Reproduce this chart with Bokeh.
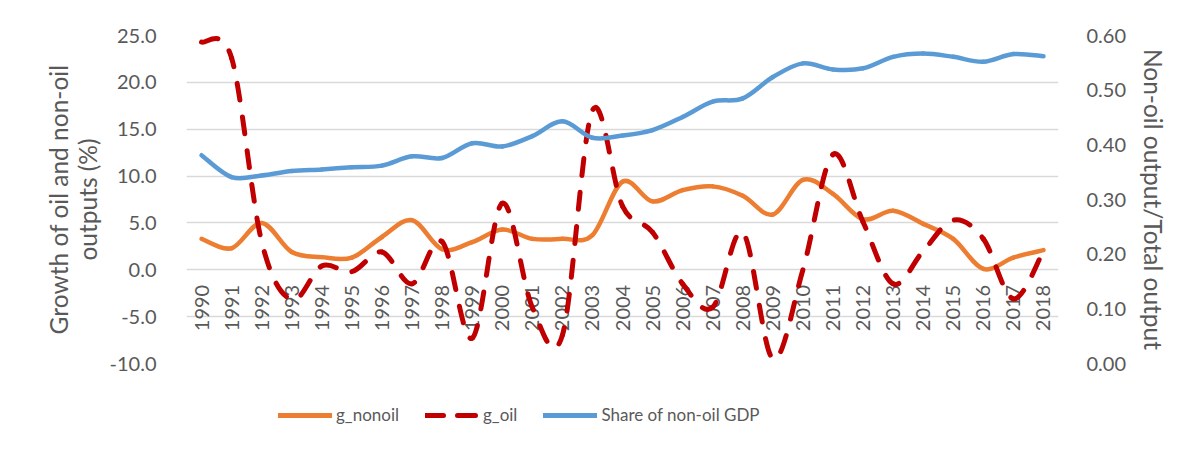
import math
from bokeh.plotting import figure
from bokeh.layouts import column
from bokeh.models import (Range1d, LinearAxis, FixedTicker, NumeralTickFormatter,
                          Legend, LegendItem, ColumnDataSource)
from bokeh.core.properties import value
from bokeh.embed import file_html
from bokeh.resources import INLINE

# ---------------- data ----------------
years = ["1990", "1991", "1992", "1993", "1994", "1995", "1996", "1997", "1998", "1999",
         "2000", "2001", "2002", "2003", "2004", "2005", "2006", "2007", "2008", "2009",
         "2010", "2011", "2012", "2013", "2014", "2015", "2016", "2017", "2018"]

g_nonoil = [3.3, 2.3, 5.0, 1.9, 1.35, 1.3, 3.5, 5.3, 2.2, 2.95,
            4.3, 3.3, 3.3, 3.7, 9.4, 7.3, 8.5, 8.9, 7.9, 5.9,
            9.6, 8.1, 5.4, 6.3, 4.9, 3.3, 0.1, 1.3, 2.1]

g_oil = [24.3, 22.6, 3.0, -3.2, 0.4, -0.2, 1.9, -1.5, 3.0, -7.3,
         7.1, -4.0, -7.0, 17.0, 6.8, 4.0, -1.5, -4.0, 4.0, -9.5,
         0.0, 12.3, 5.1, -1.5, 2.0, 5.3, 3.3, -3.1, 2.0]

share_nonoil = [0.381, 0.341, 0.344, 0.352, 0.355, 0.359, 0.362, 0.379, 0.376, 0.403,
                0.397, 0.416, 0.443, 0.413, 0.417, 0.427, 0.451, 0.479, 0.485, 0.524,
                0.549, 0.538, 0.540, 0.561, 0.567, 0.561, 0.552, 0.566, 0.562]

series_names = ["g_nonoil", "g_oil", "Share of non-oil GDP"]

left_ticks = [-10, -5, 0, 5, 10, 15, 20, 25]
right_ticks = [0.0, 0.1, 0.2, 0.3, 0.4, 0.5, 0.6]

# ---------------- styles ----------------
FONT = "Lato"
GREY = "#595959"
C_NONOIL = "#ED7D31"
C_OIL = "#C00000"
C_SHARE = "#5B9BD5"
OIL_DASH = "17 17"
OIL_DASH_LEGEND = "18 14"

FRAME_W, FRAME_H = 872, 328
BORDER_L, BORDER_R, BORDER_T, BORDER_B = 186, 123, 35, 37
FIG_W = BORDER_L + FRAME_W + BORDER_R
LEGEND_H = 42

xs = list(range(len(years)))
X_LO, X_HI = -0.5, len(years) - 0.5
Y_LO, Y_HI = left_ticks[0], left_ticks[-1]
R_LO, R_HI = right_ticks[0], right_ticks[-1]


def smooth_segments(vals, px_x, px_y):
    """Excel-like smoothed line as cubic Bezier segments (Catmull-Rom control points)."""
    n = len(vals)
    cols = dict(x0=[], y0=[], x1=[], y1=[], cx0=[], cy0=[], cx1=[], cy1=[], off=[])
    cum = 0.0
    for i in range(n - 1):
        p0 = (xs[i], vals[i])
        p1 = (xs[i + 1], vals[i + 1])
        pm = (xs[i - 1], vals[i - 1]) if i > 0 else p0
        pp = (xs[i + 2], vals[i + 2]) if i + 2 < n else p1
        c0 = (p0[0] + (p1[0] - pm[0]) / 6.0, p0[1] + (p1[1] - pm[1]) / 6.0)
        c1 = (p1[0] - (pp[0] - p0[0]) / 6.0, p1[1] - (pp[1] - p0[1]) / 6.0)
        cols["x0"].append(p0[0]); cols["y0"].append(p0[1])
        cols["x1"].append(p1[0]); cols["y1"].append(p1[1])
        cols["cx0"].append(c0[0]); cols["cy0"].append(c0[1])
        cols["cx1"].append(c1[0]); cols["cy1"].append(c1[1])
        cols["off"].append(int(round(cum)))
        # screen-space length, to keep the dash pattern continuous across segments
        length = 0.0
        prev = None
        for k in range(61):
            t = k / 60.0
            a, b, c, d = (1 - t) ** 3, 3 * t * (1 - t) ** 2, 3 * t * t * (1 - t), t ** 3
            bx = a * p0[0] + b * c0[0] + c * c1[0] + d * p1[0]
            by = a * p0[1] + b * c0[1] + c * c1[1] + d * p1[1]
            cur = (bx * px_x, by * px_y)
            if prev is not None:
                length += math.hypot(cur[0] - prev[0], cur[1] - prev[1])
            prev = cur
        cum += length
    return ColumnDataSource(cols)


px_x = FRAME_W / (X_HI - X_LO)
px_y_left = FRAME_H / (Y_HI - Y_LO)
px_y_right = FRAME_H / (R_HI - R_LO)

p = figure(frame_width=FRAME_W, frame_height=FRAME_H,
           x_range=Range1d(X_LO, X_HI), y_range=Range1d(Y_LO, Y_HI),
           output_backend="svg", toolbar_location=None, x_axis_location=None,
           min_border_left=BORDER_L, min_border_right=BORDER_R,
           min_border_top=BORDER_T, min_border_bottom=BORDER_B)
p.outline_line_color = None
p.background_fill_color = "white"
p.border_fill_color = "white"
p.xgrid.visible = False

# left axis
ya = p.yaxis[0]
ya.ticker = FixedTicker(ticks=left_ticks)
ya.formatter = NumeralTickFormatter(format="0.0")
ya.axis_line_color = None
ya.major_tick_line_color = None
ya.minor_tick_line_color = None
ya.major_label_standoff = 24
ya.major_label_text_font = FONT
ya.major_label_text_font_size = "20px"
ya.major_label_text_color = GREY
ya.axis_label = "Growth of oil and non-oil\noutputs (%)"
ya.axis_label_text_font = FONT
ya.axis_label_text_font_size = "24.5px"
ya.axis_label_text_font_style = "normal"
ya.axis_label_text_color = GREY
ya.axis_label_text_line_height = 1.0
ya.axis_label_standoff = 5

p.ygrid.ticker = FixedTicker(ticks=left_ticks)
p.ygrid.grid_line_color = "#D9D9D9"
p.ygrid.grid_line_width = 1.5

# right axis
p.extra_y_ranges = {"share": Range1d(R_LO, R_HI)}
ra = LinearAxis(y_range_name="share", ticker=FixedTicker(ticks=right_ticks),
                formatter=NumeralTickFormatter(format="0.00"))
ra.axis_line_color = None
ra.major_tick_line_color = None
ra.minor_tick_line_color = None
ra.major_label_standoff = 22
ra.major_label_text_font = FONT
ra.major_label_text_font_size = "20px"
ra.major_label_text_color = GREY
ra.axis_label = "Non-oil output/Total output"
ra.axis_label_text_font = FONT
ra.axis_label_text_font_size = "24.5px"
ra.axis_label_text_font_style = "normal"
ra.axis_label_text_color = GREY
ra.axis_label_standoff = 10
p.add_layout(ra, "right")

# year labels sitting under the zero line (category axis crossing at 0)
p.text(x=xs, y=[0] * len(xs), text=years, angle=math.pi / 2,
       text_align="right", text_baseline="middle", y_offset=15,
       text_font=value(FONT), text_font_size="20px", text_color=GREY)

# series
src_nonoil = smooth_segments(g_nonoil, px_x, px_y_left)
src_oil = smooth_segments(g_oil, px_x, px_y_left)
src_share = smooth_segments(share_nonoil, px_x, px_y_right)

bez = dict(x0="x0", y0="y0", x1="x1", y1="y1", cx0="cx0", cy0="cy0", cx1="cx1", cy1="cy1")
p.bezier(**bez, source=src_nonoil, line_color=C_NONOIL, line_width=4.5,
         line_cap="round", line_join="round")
p.bezier(**bez, source=src_oil, line_color=C_OIL, line_width=5, line_cap="round",
         line_join="round", line_dash=OIL_DASH, line_dash_offset="off")
p.bezier(**bez, source=src_share, y_range_name="share", line_color=C_SHARE,
         line_width=4.5, line_cap="round", line_join="round")

# ---------------- legend strip below the chart ----------------
# The strip's view range lies away from the data, so only the legend is seen.
lg = figure(width=FIG_W, height=LEGEND_H, frame_width=FIG_W, frame_height=LEGEND_H,
            x_range=Range1d(-3, -2), y_range=Range1d(-3, -2),
            output_backend="svg", toolbar_location=None,
            x_axis_location=None, y_axis_location=None,
            min_border_left=0, min_border_right=0, min_border_top=0, min_border_bottom=0)
lg.outline_line_color = None
lg.xgrid.visible = False
lg.ygrid.visible = False
lg.background_fill_color = "white"
lg.border_fill_color = "white"

l1 = lg.line(x=xs, y=g_nonoil, line_color=C_NONOIL, line_width=5, line_cap="round")
l2 = lg.line(x=xs, y=g_oil, line_color=C_OIL, line_width=5, line_cap="round",
             line_dash=OIL_DASH_LEGEND)
l3 = lg.line(x=xs, y=share_nonoil, line_color=C_SHARE, line_width=5, line_cap="round")

legend = Legend(items=[LegendItem(label=series_names[0], renderers=[l1]),
                       LegendItem(label=series_names[1], renderers=[l2]),
                       LegendItem(label=series_names[2], renderers=[l3])],
                orientation="horizontal", location=(278, 17))
legend.glyph_width = 54
legend.glyph_height = 20
legend.label_height = 20
legend.label_standoff = 4
legend.spacing = 26
legend.padding = 0
legend.margin = 0
legend.border_line_color = None
legend.background_fill_alpha = 0
legend.label_text_font = FONT
legend.label_text_font_size = "17px"
legend.label_text_color = GREY
lg.add_layout(legend)

layout = column(p, lg, spacing=0)
open("out.html", "w").write(file_html(layout, INLINE))
